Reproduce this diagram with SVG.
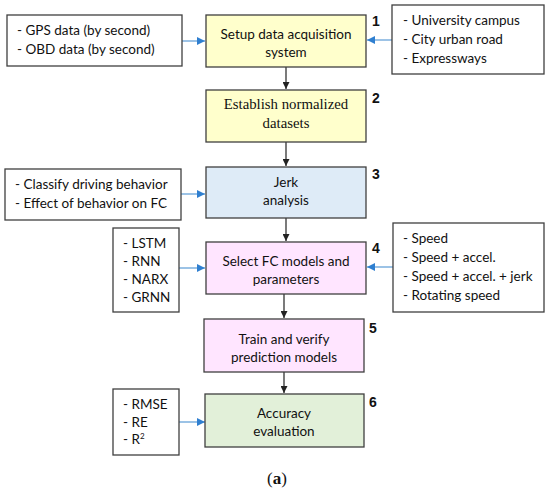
<svg xmlns="http://www.w3.org/2000/svg" width="550" height="494" viewBox="0 0 550 494">
<style>
.box{stroke:#3f3f3f;stroke-width:1.3}
.side{fill:#ffffff;stroke:#3f3f3f;stroke-width:1.3}
.t{font-family:Lato,"Open Sans",sans-serif;font-size:13.5px;fill:#111}
.c{text-anchor:middle}
.s{font-family:"Liberation Serif",serif;font-size:14.8px;fill:#111;text-anchor:middle}
.n{font-family:"Liberation Sans",Arial,sans-serif;font-size:14px;font-weight:bold;fill:#111}
.k{stroke:#222;stroke-width:1.2;fill:none}
.b{stroke:#5b9bd5;stroke-width:1.2;fill:none}
</style>
<defs>
<marker id="ak" viewBox="0 0 10 10" refX="10" refY="5" markerWidth="7" markerHeight="7" orient="auto" markerUnits="userSpaceOnUse"><path d="M0,0L10,5L0,10z" fill="#222"/></marker>
<marker id="ab" viewBox="0 0 10 10" refX="10" refY="5" markerWidth="8" markerHeight="8" orient="auto" markerUnits="userSpaceOnUse"><path d="M0,0L10,5L0,10z" fill="#2f7fd0"/></marker>
</defs>
<rect width="550" height="494" fill="#fff"/>
<g id="connectors">
<line class="k" x1="286" y1="67" x2="286" y2="89" marker-end="url(#ak)"/>
<line class="k" x1="286" y1="142" x2="286" y2="166" marker-end="url(#ak)"/>
<line class="k" x1="286" y1="218" x2="286" y2="241" marker-end="url(#ak)"/>
<line class="k" x1="284" y1="294" x2="284" y2="318" marker-end="url(#ak)"/>
<line class="k" x1="284" y1="372" x2="284" y2="393" marker-end="url(#ak)"/>
<line class="b" x1="182" y1="41" x2="205" y2="41" marker-end="url(#ab)"/>
<line class="b" x1="392" y1="40" x2="367" y2="40" marker-end="url(#ab)"/>
<line class="b" x1="181" y1="194" x2="205" y2="194" marker-end="url(#ab)"/>
<line class="b" x1="179" y1="268" x2="205" y2="268" marker-end="url(#ab)"/>
<line class="b" x1="393" y1="267" x2="367" y2="267" marker-end="url(#ab)"/>
<line class="b" x1="179" y1="422" x2="205" y2="422" marker-end="url(#ab)"/>
</g>
<g id="n1">
<rect class="box" x="206" y="15" width="160" height="52" fill="#ffffcc"/>
<text class="t c" x="286" y="39">Setup data acquisition</text>
<text class="t c" x="286" y="57">system</text>
<text class="n" x="372" y="26">1</text>
</g>
<g id="n2">
<rect class="box" x="206" y="90" width="160" height="52" fill="#ffffcc"/>
<text class="s" x="286" y="109">Establish normalized</text>
<text class="s" x="286" y="128">datasets</text>
<text class="n" x="372" y="103">2</text>
</g>
<g id="n3">
<rect class="box" x="206" y="167" width="160" height="51" fill="#deebf7"/>
<text class="t c" x="286" y="187">Jerk</text>
<text class="t c" x="286" y="205">analysis</text>
<text class="n" x="372" y="179">3</text>
</g>
<g id="n4">
<rect class="box" x="206" y="242" width="160" height="52" fill="#ffe5ff"/>
<text class="t c" x="286" y="266">Select FC models and</text>
<text class="t c" x="286" y="284">parameters</text>
<text class="n" x="372" y="253">4</text>
</g>
<g id="n5">
<rect class="box" x="204" y="319" width="160" height="53" fill="#ffe5ff"/>
<text class="t c" x="284" y="344">Train and verify</text>
<text class="t c" x="284" y="362">prediction models</text>
<text class="n" x="369" y="333">5</text>
</g>
<g id="n6">
<rect class="box" x="205" y="394" width="159" height="53" fill="#e2f0d9"/>
<text class="t c" x="284" y="418">Accuracy</text>
<text class="t c" x="284" y="436">evaluation</text>
<text class="n" x="369" y="407">6</text>
</g>
<g id="in1">
<rect class="side" x="7" y="15" width="175" height="51"/>
<text class="t" x="17" y="35">- GPS data (by second)</text>
<text class="t" x="17" y="54">- OBD data (by second)</text>
</g>
<g id="in2">
<rect class="side" x="392" y="5" width="152" height="69"/>
<text class="t" x="403" y="25">- University campus</text>
<text class="t" x="403" y="44">- City urban road</text>
<text class="t" x="403" y="63">- Expressways</text>
</g>
<g id="in3">
<rect class="side" x="5" y="169" width="176" height="51"/>
<text class="t" x="15" y="189">- Classify driving behavior</text>
<text class="t" x="15" y="208">- Effect of behavior on FC</text>
</g>
<g id="in4">
<rect class="side" x="113" y="228" width="66" height="84"/>
<text class="t" x="123" y="248">- LSTM</text>
<text class="t" x="123" y="266">- RNN</text>
<text class="t" x="123" y="284">- NARX</text>
<text class="t" x="123" y="302">- GRNN</text>
</g>
<g id="in5">
<rect class="side" x="393" y="223" width="151" height="89"/>
<text class="t" x="403" y="243">- Speed</text>
<text class="t" x="403" y="262">- Speed + accel.</text>
<text class="t" x="403" y="281">- Speed + accel. + jerk</text>
<text class="t" x="403" y="300">- Rotating speed</text>
</g>
<g id="in6">
<rect class="side" x="113" y="389" width="66" height="66"/>
<text class="t" x="123" y="409">- RMSE</text>
<text class="t" x="123" y="427">- RE</text>
<text class="t" x="123" y="444">- R<tspan font-size="8" dy="-5">2</tspan></text>
</g>
<text x="277" y="484" font-family="'Liberation Serif',serif" font-size="17" fill="#111" text-anchor="middle">(<tspan font-weight="bold">a</tspan>)</text>
</svg>
